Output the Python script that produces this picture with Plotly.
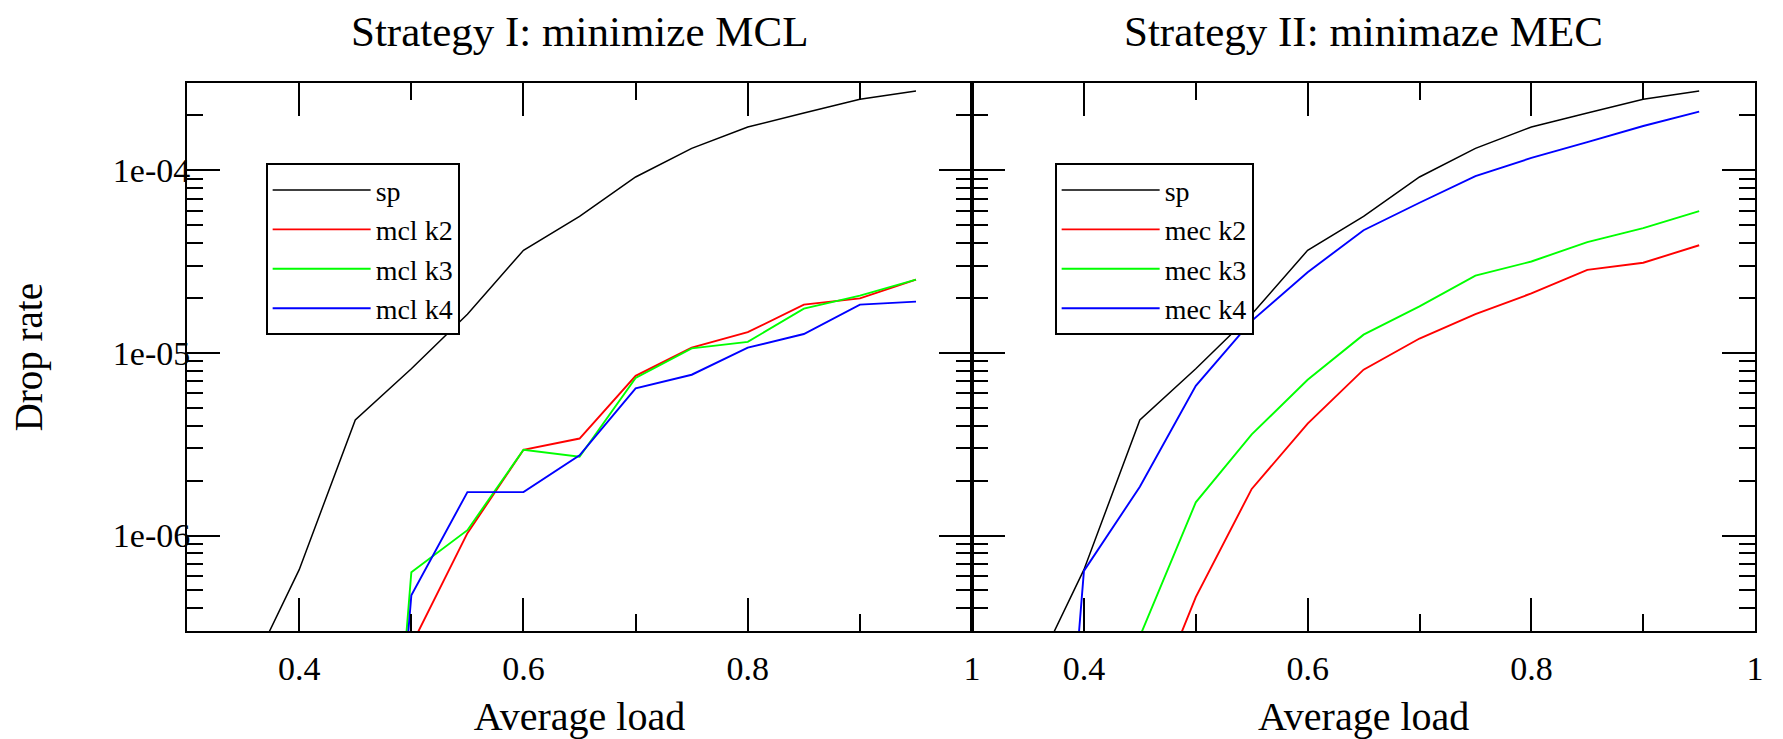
import plotly.graph_objects as go

# ---------------- data ----------------
load_sp = [0.35, 0.40, 0.45, 0.50, 0.55, 0.60, 0.65, 0.70, 0.75, 0.80, 0.85, 0.90, 0.95]
sp = [1.5e-7, 6.5e-7, 4.3e-6, 8.2e-6, 1.63e-5, 3.65e-5, 5.6e-5, 9.2e-5, 1.32e-4, 1.73e-4, 2.06e-4, 2.45e-4, 2.72e-4]

# Strategy I (minimize MCL)
load_mcl_k2 = [0.50, 0.55, 0.60, 0.65, 0.70, 0.75, 0.80, 0.85, 0.90, 0.95]
mcl_k2 = [2.5e-7, 1.03e-6, 2.95e-6, 3.4e-6, 7.5e-6, 1.07e-5, 1.3e-5, 1.84e-5, 1.99e-5, 2.52e-5]
load_mcl_k34 = [0.45, 0.50, 0.55, 0.60, 0.65, 0.70, 0.75, 0.80, 0.85, 0.90, 0.95]
mcl_k3 = [1e-10, 6.3e-7, 1.07e-6, 2.95e-6, 2.7e-6, 7.3e-6, 1.06e-5, 1.15e-5, 1.75e-5, 2.06e-5, 2.52e-5]
mcl_k4 = [1e-10, 4.7e-7, 1.73e-6, 1.73e-6, 2.75e-6, 6.4e-6, 7.6e-6, 1.07e-5, 1.27e-5, 1.84e-5, 1.91e-5]

# Strategy II (minimize MEC)
load_mec_k4 = [0.35, 0.40, 0.45, 0.50, 0.55, 0.60, 0.65, 0.70, 0.75, 0.80, 0.85, 0.90, 0.95]
mec_k4 = [1e-10, 6.4e-7, 1.85e-6, 6.6e-6, 1.5e-5, 2.77e-5, 4.7e-5, 6.65e-5, 9.3e-5, 1.17e-4, 1.43e-4, 1.75e-4, 2.1e-4]
load_mec_k23 = [0.45, 0.50, 0.55, 0.60, 0.65, 0.70, 0.75, 0.80, 0.85, 0.90, 0.95]
mec_k3 = [2.8e-7, 1.52e-6, 3.58e-6, 7.13e-6, 1.26e-5, 1.8e-5, 2.65e-5, 3.17e-5, 4.05e-5, 4.83e-5, 5.98e-5]
mec_k2 = [8e-8, 4.6e-7, 1.8e-6, 4.1e-6, 8.1e-6, 1.2e-5, 1.63e-5, 2.12e-5, 2.85e-5, 3.12e-5, 3.89e-5]

titles = ["Strategy I: minimize MCL", "Strategy II: minimaze MEC"]
ytick_vals = [1e-6, 1e-5, 1e-4]
ytick_text = ["1e-06", "1e-05", "1e-04"]

# ---------------- figure ----------------
FONT = "Liberation Serif, Times New Roman, serif"
C = {"sp": "#000000", "k2": "#ff0000", "k3": "#00ff00", "k4": "#0000ff"}

fig = go.Figure()

def add(x, y, name, color, ax, legend, width=1.9):
    fig.add_trace(go.Scatter(
        x=x, y=y, name=name, mode="lines",
        line=dict(color=color, width=width),
        xaxis="x" if ax == 1 else "x2", yaxis="y" if ax == 1 else "y2",
        legend=legend, showlegend=True))

add(load_sp, sp, "sp", C["sp"], 1, "legend", 1.5)
add(load_mcl_k2, mcl_k2, "mcl k2", C["k2"], 1, "legend")
add(load_mcl_k34, mcl_k3, "mcl k3", C["k3"], 1, "legend")
add(load_mcl_k34, mcl_k4, "mcl k4", C["k4"], 1, "legend")

add(load_sp, sp, "sp", C["sp"], 2, "legend2", 1.5)
add(load_mec_k23, mec_k2, "mec k2", C["k2"], 2, "legend2")
add(load_mec_k23, mec_k3, "mec k3", C["k3"], 2, "legend2")
add(load_mec_k4, mec_k4, "mec k4", C["k4"], 2, "legend2")

W, H = 1783, 739
x_left = [188 / W, 977 / W]
x_right = [977 / W, 1764 / W]
y_dom = [1 - 631 / H, 1 - 83.3 / H]

minor_y = [m * 10 ** e for e in range(-7, -3) for m in range(2, 10)]

xaxis_common = dict(
    range=[0.3, 1.0], dtick=0.2, tick0=0,
    ticks="inside", ticklen=33, tickwidth=2, tickcolor="black",
    showline=True, linewidth=2, linecolor="black", mirror="ticks",
    showgrid=False, zeroline=False,
    tickfont=dict(family=FONT, size=34, color="black"),
    ticklabelstandoff=6,
    minor=dict(dtick=0.1, tick0=0, ticks="inside", ticklen=17, tickwidth=2, tickcolor="black", showgrid=False),
    title=dict(text="Average load", font=dict(family=FONT, size=40, color="black"), standoff=16),
)
yaxis_common = dict(
    type="log", range=[-6.5229, -3.5229],
    tickmode="array", tickvals=ytick_vals, ticktext=ytick_text,
    ticks="inside", ticklen=33, tickwidth=2, tickcolor="black",
    showline=True, linewidth=2, linecolor="black", mirror="ticks",
    showgrid=False, zeroline=False,
    tickfont=dict(family=FONT, size=34, color="black"),
    minor=dict(tickmode="array", tickvals=minor_y, ticks="inside", ticklen=16, tickwidth=2, tickcolor="black", showgrid=False),
)

legend_common = dict(
    xanchor="left", yanchor="top", y=1 - 163.3 / H,
    bordercolor="black", borderwidth=2, bgcolor="white",
    font=dict(family=FONT, size=28, color="black"), itemwidth=98,
)

fig.update_layout(
    width=W, height=H, autosize=False,
    margin=dict(l=0, r=0, t=0, b=0),
    paper_bgcolor="white", plot_bgcolor="white",
    font=dict(family=FONT, color="black"),
    xaxis=dict(domain=x_left, anchor="y", **xaxis_common),
    yaxis=dict(domain=y_dom, anchor="x", ticklabelstandoff=-12,
               title=dict(text="Drop rate", font=dict(family=FONT, size=39, color="black"), standoff=58),
               **yaxis_common),
    xaxis2=dict(domain=x_right, anchor="y2", **xaxis_common),
    yaxis2=dict(domain=y_dom, anchor="x2", matches="y", showticklabels=False, **yaxis_common),
    legend=dict(x=267 / W, **legend_common),
    legend2=dict(x=1060 / W, **legend_common),
    annotations=[
        dict(text=titles[0], x=(188 + 977) / 2 / W, y=1 - 31 / H, xref="paper", yref="paper",
             xanchor="center", yanchor="middle", showarrow=False,
             font=dict(family=FONT, size=43, color="black")),
        dict(text=titles[1], x=(977 + 1764) / 2 / W, y=1 - 31 / H, xref="paper", yref="paper",
             xanchor="center", yanchor="middle", showarrow=False,
             font=dict(family=FONT, size=43, color="black")),
    ],
)

fig.write_html("out.html", config={"displayModeBar": False},
               post_script="document.body.style.margin='0';")
